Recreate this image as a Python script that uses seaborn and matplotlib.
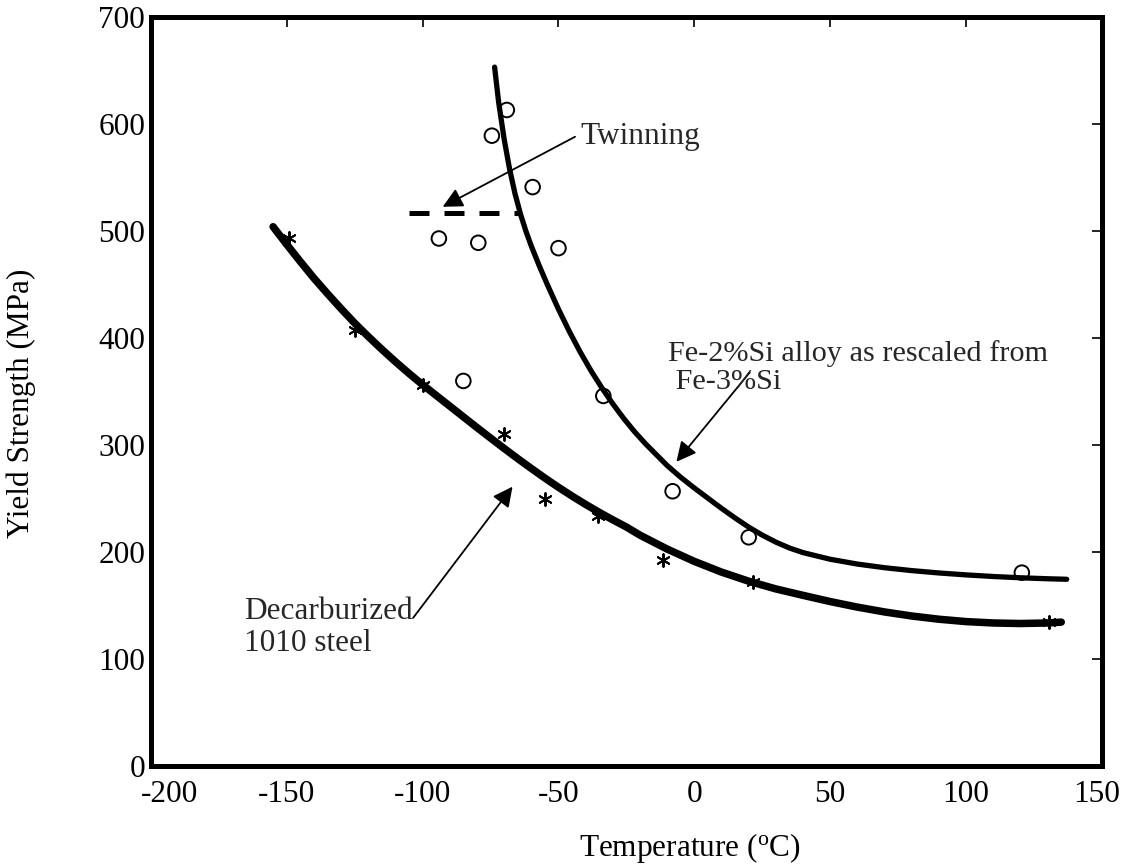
import numpy as np
import pandas as pd
import matplotlib
matplotlib.use("Agg")
import matplotlib.pyplot as plt
import matplotlib.transforms as mtransforms
import seaborn as sns

# ---- data ----
fe_pts_x = [-69, -74.5, -59.5, -94, -79.5, -50, -85, -33.5, -8, 20, 120.5]
fe_pts_y = [613, 589, 541, 493, 489, 484, 360, 346, 257, 214, 181]
steel_pts_x = [-149, -125, -100, -70, -55, -35.5, -11.5, 21.5, 130.5]
steel_pts_y = [493, 408, 356, 310, 250, 234, 193, 172, 135]

fe_curve_x = [-73.5, -72, -70, -68, -66, -64, -62, -60, -57, -54, -50, -46,
              -42, -38, -34, -30, -26, -22, -18, -14, -10, -5, 0, 5, 10, 15,
              20, 25, 30, 35, 40, 50, 60, 70, 80, 90, 100, 110, 120, 130, 137]
fe_curve_y = [653, 620, 586, 558, 535, 516, 500, 486, 467.1, 449.4, 427,
              406.2, 387, 369.4, 353.4, 338.6, 325, 312.6, 301.4, 291.2, 281,
              270, 260, 250.5, 241, 232, 223.5, 216, 209.5, 204, 199.7, 193.5,
              189, 185.6, 182.9, 180.7, 178.9, 177.4, 176.2, 175.3, 174.8]

steel_curve_x = [-155, -150, -145, -140, -135, -130, -125, -120, -115, -110,
                 -105, -100, -95, -90, -85, -80, -75, -70, -65, -60, -55, -50,
                 -45, -40, -35, -30, -25, -20, -10, 0, 10, 20, 30, 40, 50, 60,
                 70, 80, 90, 100, 110, 120, 130, 135]
steel_curve_y = [504, 487.5, 471.5, 456, 441.5, 427.5, 414, 401.5, 389.5,
                 378, 367, 356.5, 346.5, 336.5, 326.5, 316.5, 306.7, 297,
                 287.5, 278.3, 269.3, 260.7, 252.5, 244.7, 237.3, 230.3, 223.6,
                 216, 203, 191.5, 181.5, 173, 165.8, 159.8, 154, 148.8, 144.3,
                 140.5, 137.5, 135.3, 134, 133.5, 134, 134.8]

twin_x = [-105, -64]
twin_y = [516.5, 516.5]

x_ticks = [-200, -150, -100, -50, 0, 50, 100, 150]
y_ticks = [0, 100, 200, 300, 400, 500, 600, 700]

# ---- style ----
sns.set_theme(style="white")
plt.rcParams["font.family"] = ["Liberation Serif", "DejaVu Serif"]
plt.rcParams["mathtext.fontset"] = "custom"
plt.rcParams["mathtext.rm"] = "Liberation Serif"
plt.rcParams["mathtext.it"] = "Liberation Serif:italic"

FS = 22.5
fig = plt.figure(figsize=(11.22, 8.66), dpi=100)
ax = fig.add_axes([0.1344, 0.1149, 0.8478, 0.8657])

# curves
sns.lineplot(x=fe_curve_x, y=fe_curve_y, ax=ax, color="black", lw=3.8,
             sort=False, estimator=None)
sns.lineplot(x=steel_curve_x, y=steel_curve_y, ax=ax, color="black", lw=5.4,
             sort=False, estimator=None)
sns.lineplot(x=twin_x, y=twin_y, ax=ax, color="black", lw=3.6,
             sort=False, estimator=None, linestyle=(0, (4, 3)))

# points
sns.scatterplot(x=fe_pts_x, y=fe_pts_y, ax=ax, s=110, marker="o",
                facecolors="none", edgecolor="black", linewidth=1.4, zorder=4)
sns.scatterplot(x=steel_pts_x, y=steel_pts_y, ax=ax, s=85, marker=(6, 2, 0),
                color="black", linewidth=1.4, zorder=4)

ax.set_xlim(-200, 150)
ax.set_ylim(0, 700)
ax.set_xticks(x_ticks)
ax.set_yticks(y_ticks)
ax.set_xticklabels([str(v) for v in x_ticks])
ax.set_yticklabels([str(v) for v in y_ticks])
ax.tick_params(axis="both", which="both", direction="in", length=7, width=1.2,
               labelsize=FS, colors="black", top=True, right=True)
ax.tick_params(axis="x", pad=10)
ax.tick_params(axis="y", pad=4)
for sp in ax.spines.values():
    sp.set_linewidth(3.6)
    sp.set_color("black")

# nudge the end x tick labels like the reference
xl = ax.get_xticklabels()
xl[0].set_transform(xl[0].get_transform() +
                    mtransforms.ScaledTranslation(0.19, 0, fig.dpi_scale_trans))
xl[-1].set_transform(xl[-1].get_transform() +
                     mtransforms.ScaledTranslation(-0.05, 0, fig.dpi_scale_trans))

ax.set_xlabel("Temperature ($^{\\mathrm{o}}$C)", fontsize=FS, color="black")
ax.set_ylabel("Yield Strength (MPa)", fontsize=FS, color="black")
ax.xaxis.set_label_coords(0.567, -0.086)
ax.yaxis.set_label_coords(-0.121, 0.485)

# annotations
arrow = dict(arrowstyle="-|>", color="black", lw=1.3, mutation_scale=30,
             shrinkA=0, shrinkB=0)
ax.annotate("", xy=(-92.6, 522.6), xytext=(-43.9, 588), arrowprops=arrow)
ax.text(-42, 588, "Twinning", fontsize=FS, ha="left", va="center")

ax.annotate("", xy=(-6.6, 284.5), xytext=(20.4, 368), arrowprops=arrow)
ax.text(-9.7, 372.5, "Fe-2%Si alloy as rescaled from\n Fe-3%Si", fontsize=21.8,
        ha="left", va="center", linespacing=1.14)

ax.annotate("", xy=(-66.9, 261.3), xytext=(-103.5, 138.7), arrowprops=arrow)
ax.text(-165.7, 129.8, "Decarburized\n1010 steel", fontsize=FS,
        ha="left", va="center", linespacing=1.12)

fig.savefig("out.png", dpi=100, facecolor="white")
